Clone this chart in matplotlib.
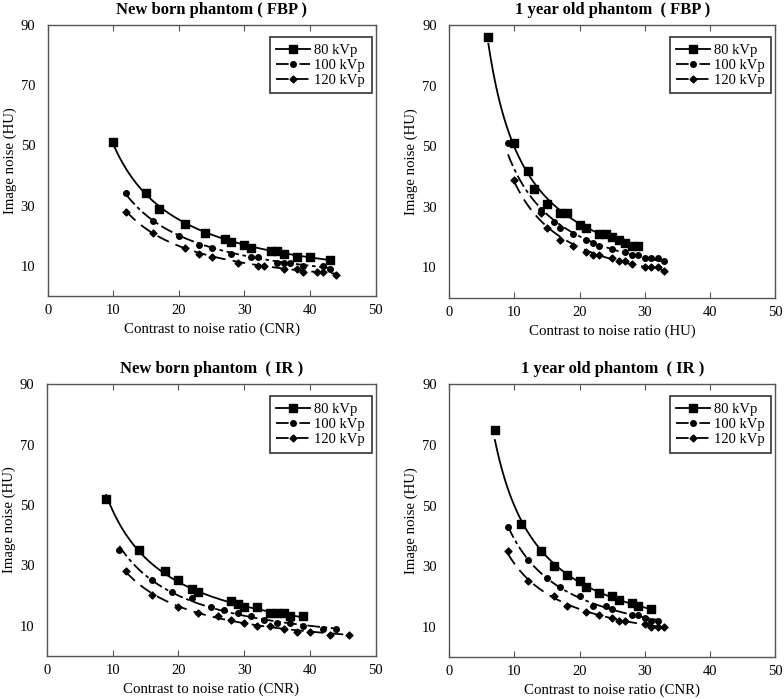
import numpy as np
import matplotlib
matplotlib.use("Agg")
import matplotlib.pyplot as plt

plt.rcParams['font.family'] = ['Liberation Serif', 'DejaVu Serif']

titles = ["New born phantom ( FBP )", "1 year old phantom  ( FBP )",
          "New born phantom  ( IR )", "1 year old phantom  ( IR )"]
xlabels = ["Contrast to noise ratio (CNR)", "Contrast to noise ratio (HU)",
           "Contrast to noise ratio (CNR)", "Contrast to noise ratio (CNR)"]
series_names = ["80 kVp", "100 kVp", "120 kVp"]

# New born, FBP
nb_fbp_80_x = [10, 15, 17, 21, 24, 27, 28, 30, 31, 34, 35, 36, 38, 40, 43]
nb_fbp_80_y = [51, 34, 29, 24, 21, 19, 18, 17, 16, 15, 15, 14, 13, 13, 12]
nb_fbp_100_x = [12, 16, 20, 23, 25, 28, 31, 32, 35, 36, 37, 39, 42, 43]
nb_fbp_100_y = [34, 25, 20, 17, 16, 14, 13, 13, 11, 11, 11, 10, 10, 9]
nb_fbp_120_x = [12, 16, 21, 23, 25, 29, 32, 33, 36, 38, 39, 41, 42, 44]
nb_fbp_120_y = [28, 21, 16, 14, 13, 11, 10, 10, 9, 9, 8, 8, 8, 7]

# 1 year old, FBP
y1_fbp_80_x = [6, 10, 12, 13, 15, 17, 18, 20, 21, 23, 24, 25, 26, 27, 28, 29]
y1_fbp_80_y = [86, 51, 42, 36, 31, 28, 28, 24, 23, 21, 21, 20, 19, 18, 17, 17]
y1_fbp_100_x = [9, 14, 16, 17, 19, 21, 22, 23, 25, 27, 28, 29, 30, 31, 32, 33]
y1_fbp_100_y = [51, 29, 25, 23, 21, 19, 18, 17, 16, 15, 14, 14, 13, 13, 13, 12]
y1_fbp_120_x = [10, 14, 15, 17, 19, 21, 22, 23, 25, 26, 27, 28, 30, 31, 32, 33]
y1_fbp_120_y = [39, 28, 23, 19, 17, 15, 14, 14, 13, 12, 12, 11, 10, 10, 10, 9]

# New born, IR
nb_ir_80_x = [9, 14, 18, 20, 22, 23, 28, 29, 30, 32, 34, 35, 36, 37, 39]
nb_ir_80_y = [52, 35, 28, 25, 22, 21, 18, 17, 16, 16, 14, 14, 14, 13, 13]
nb_ir_100_x = [11, 16, 19, 22, 25, 27, 29, 31, 33, 35, 37, 39, 42, 44]
nb_ir_100_y = [35, 25, 21, 19, 16, 15, 14, 13, 12, 11, 11, 10, 9, 9]
nb_ir_120_x = [12, 16, 20, 23, 26, 28, 30, 32, 34, 36, 38, 40, 43, 46]
nb_ir_120_y = [28, 20, 16, 14, 13, 12, 11, 10, 10, 9, 8, 8, 7, 7]

# 1 year old, IR
y1_ir_80_x = [7, 11, 14, 16, 18, 20, 21, 23, 25, 26, 28, 29, 31]
y1_ir_80_y = [75, 44, 35, 30, 27, 25, 23, 21, 20, 19, 18, 17, 16]
y1_ir_100_x = [9, 12, 15, 17, 20, 22, 24, 25, 28, 29, 30, 31, 32]
y1_ir_100_y = [43, 32, 26, 23, 20, 17, 17, 16, 14, 14, 13, 12, 12]
y1_ir_120_x = [9, 12, 16, 18, 21, 23, 25, 26, 27, 30, 31, 32, 33]
y1_ir_120_y = [35, 25, 20, 17, 15, 14, 13, 12, 12, 11, 10, 10, 10]

panels = [
    [(nb_fbp_80_x, nb_fbp_80_y), (nb_fbp_100_x, nb_fbp_100_y), (nb_fbp_120_x, nb_fbp_120_y)],
    [(y1_fbp_80_x, y1_fbp_80_y), (y1_fbp_100_x, y1_fbp_100_y), (y1_fbp_120_x, y1_fbp_120_y)],
    [(nb_ir_80_x, nb_ir_80_y), (nb_ir_100_x, nb_ir_100_y), (nb_ir_120_x, nb_ir_120_y)],
    [(y1_ir_80_x, y1_ir_80_y), (y1_ir_100_x, y1_ir_100_y), (y1_ir_120_x, y1_ir_120_y)],
]

markers = ['s', 'o', 'D']
msizes = [5.5, 4, 3.5]
dashes = [None, (7, 2, 2, 2), (7, 4)]

# axes boxes in figure fractions [left, bottom, width, height]
boxes = [
    [0.061, 0.577, 0.418, 0.387],
    [0.573, 0.574, 0.416, 0.390],
    [0.060, 0.062, 0.419, 0.388],
    [0.573, 0.060, 0.416, 0.390],
]

fig = plt.figure(figsize=(7.84, 6.99), dpi=100)

for i, data in enumerate(panels):
    ax = fig.add_axes(boxes[i])
    for j, (xs, ys) in enumerate(data):
        xs = np.array(xs, dtype=float)
        ys = np.array(ys, dtype=float)
        # power-law trend line fitted through the points
        b, loga = np.polyfit(np.log(xs), np.log(ys), 1)
        xf = np.linspace(xs.min(), xs.max(), 200)
        yf = np.exp(loga) * xf ** b
        ax.scatter(xs, ys, marker=markers[j], s=msizes[j] ** 2, color='black', zorder=3)
        ln, = ax.plot(xf, yf, color='black', lw=1.3)
        if dashes[j] is not None:
            ln.set_dashes(dashes[j])
        # legend proxy
        h, = ax.plot([], [], color='black', lw=1.3, marker=markers[j], markersize=msizes[j],
                     label=series_names[j])
        if dashes[j] is not None:
            h.set_dashes(dashes[j])

    ax.set_xlim(0, 50)
    ax.set_ylim(0, 90)
    ax.set_xticks([0, 10, 20, 30, 40, 50])
    ax.set_yticks([10, 30, 50, 70, 90])
    ax.tick_params(axis='x', direction='in', top=True, length=4, width=0.8,
                   labelsize=10.5, pad=6, color='#555555')
    ax.tick_params(axis='y', length=0, labelsize=10.5, pad=9)
    for sp in ax.spines.values():
        sp.set_color('#555555')
        sp.set_linewidth(1.0)
    ax.set_title(titles[i], fontsize=12, fontweight='bold', pad=8)
    ax.set_xlabel(xlabels[i], fontsize=10.7, labelpad=4)
    ax.set_ylabel("Image noise (HU)", fontsize=10.7, labelpad=3)
    leg = ax.legend(loc='upper right', fontsize=10.5, frameon=True, fancybox=False,
                    edgecolor='black', handlelength=2.3, handletextpad=0.3,
                    borderpad=0.45, labelspacing=0.12, borderaxespad=0.0,
                    bbox_to_anchor=(0.988, 0.956))
    leg.get_frame().set_linewidth(1.2)

fig.savefig("out.png", dpi=100)
